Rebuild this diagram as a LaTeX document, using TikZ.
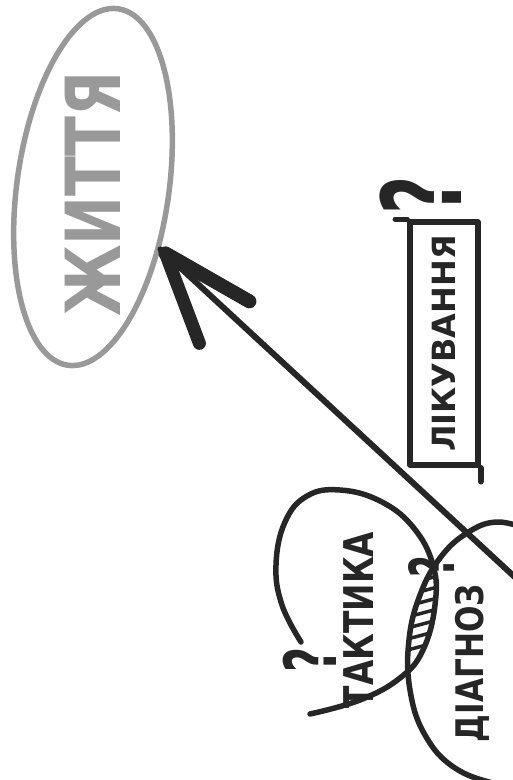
\documentclass[tikz,border=0pt]{standalone}
\usepackage{fontspec}
\setmainfont{DejaVu Sans}
\usetikzlibrary{shapes.geometric}

\begin{document}
\begin{tikzpicture}[
  x=1pt, y=-1pt,
  ink/.style={draw=black!85, line width=5.5pt, line cap=round, line join=round},
  word/.style={rotate=90, anchor=base, inner sep=0pt, text=black!85, font=\bfseries},
  ask/.style={rotate=90, xscale=0.6, inner sep=0pt, text=black!85}
]
  \useasboundingbox (0,0) rectangle (513,780);

  \node[ellipse, draw=black!40, line width=5.5pt, minimum width=152pt,
        minimum height=360pt, rotate=-8] (life) at (93,187) {};
  \node[word, text=black!40, font=\fontsize{76}{76}\selectfont\bfseries,
        xscale=0.77] (lifeword) at (120,194) {ЖИТТЯ};

  \coordinate (tail) at (545,605);
  \draw[ink, line width=6pt] (tail) -- coordinate[pos=1] (tip) (life);
  \draw[ink, line width=14pt] ([shift={(5,4)}]tip) -- ++(84,48);
  \draw[ink, line width=13pt] ([shift={(5,4)}]tip) -- ++(34,90);

  \node[ink, rotate=90, minimum width=243pt, minimum height=68pt,
        text=black!85, font=\fontsize{32}{32}\selectfont\bfseries]
        (treat) at (444,343.5) {ЛІКУВАННЯ};
  \draw[ink] (treat.north east) -- ++(-12,0);
  \draw[ink] (treat.south west) -- ++(0,14);
  \node[ask, font=\fontsize{110}{110}\selectfont\bfseries] (ask1) at (421,195) {?};

  \draw[ink] plot[smooth, tension=0.7] coordinates {(301,642) (282,605)
    (276,565) (285,522) (307,496) (340,490) (380,501) (413,527) (433,565)
    (435,605) (423,650) (400,678) (360,700) (310,714)};
  \draw[ink] plot[smooth, tension=0.7] coordinates {(530,530) (497,522)
    (467,533) (440,558) (420,595) (409,640) (410,690) (425,735) (455,768)
    (500,785) (540,792)};

  \begin{scope}
    \clip (434,566) .. controls (442,600) and (430,650) .. (408,676)
          .. controls (405,640) and (415,590) .. cycle;
    \foreach \y in {580,591,...,650}
      \draw[ink, line width=3.5pt] (400,\y+6) -- (445,\y-6);
  \end{scope}

  \node[word, font=\fontsize{41}{41}\selectfont\bfseries, xscale=0.8]
        (tactic) at (373,620) {ТАКТИКА};
  \node[ask, font=\fontsize{72}{72}\selectfont\bfseries] (ask2) at (310,660) {?};
  \node[word, font=\fontsize{38}{38}\selectfont\bfseries, xscale=0.82]
        (diag) at (483,663) {ДІАГНОЗ};
  \node[ask, font=\fontsize{62}{62}\selectfont\bfseries] (ask3) at (431,567) {?};
\end{tikzpicture}
\end{document}
